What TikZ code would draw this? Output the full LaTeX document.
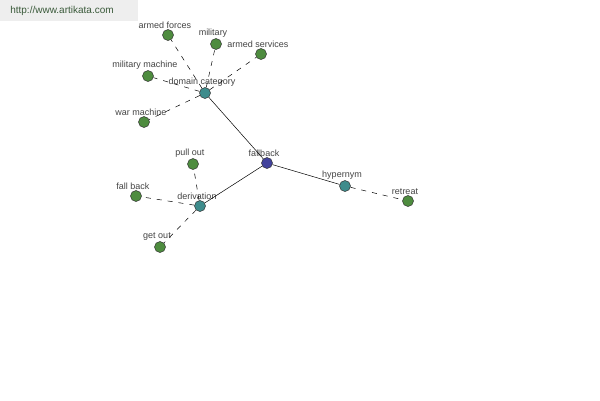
\documentclass[tikz,border=0pt]{standalone}
\usepackage{fontspec}
\setmainfont{Liberation Sans}
\usepackage{tikz}
\usetikzlibrary{positioning}
\definecolor{leafgreen}{HTML}{4E8C3F}
\definecolor{hubteal}{HTML}{3E8C8C}
\definecolor{rootblue}{HTML}{42429C}
\definecolor{labelgray}{HTML}{444444}
\definecolor{headgray}{HTML}{EEEEEE}
\definecolor{headtext}{HTML}{3A5A3A}
\tikzset{
  dot/.style={circle, draw=black!80, line width=0.5pt, minimum size=11pt, inner sep=0pt},
  leaf/.style={dot, fill=leafgreen},
  hub/.style={dot, fill=hubteal},
  root/.style={dot, fill=rootblue},
  lbl/.style={font=\fontsize{9}{10}\selectfont, text=labelgray, inner sep=0.5pt, xshift=-3pt},
  link/.style={line width=0.5pt, black},
  weak/.style={line width=0.5pt, black, dash pattern=on 5pt off 6pt}
}
\begin{document}
\begin{tikzpicture}[x=1pt, y=-1pt, label distance=0pt]
\fill[white] (0,0) rectangle (600,400);
\useasboundingbox (0,0) rectangle (600,400);
% header
\fill[headgray] (0,0) rectangle (138,21);
\node[font=\fontsize{10}{11}\selectfont, text=headtext] (site) at (62,11) {http://www.artikata.com};
% centre and the three relation nodes
\node[root, label={[lbl]above:fallback}] (fallback) at (267,163) {};
\node[hub, label={[lbl]above:domain category}] (domain) at (205,93) {};
\node[hub, label={[lbl]above:derivation}] (deriv) at (200,206) {};
\node[hub, label={[lbl]above:hypernym}] (hyper) at (345,186) {};
% leaves
\node[leaf, label={[lbl]above:armed forces}] (armedforces) at (168,35) {};
\node[leaf, label={[lbl]above:military}] (military) at (216,44) {};
\node[leaf, label={[lbl]above:armed services}] (armedservices) at (261,54) {};
\node[leaf, label={[lbl]above:military machine}] (milmachine) at (148,76) {};
\node[leaf, label={[lbl]above:war machine}] (warmachine) at (144,122) {};
\node[leaf, label={[lbl]above:pull out}] (pullout) at (193,164) {};
\node[leaf, label={[lbl]above:fall back}] (fallback2) at (136,196) {};
\node[leaf, label={[lbl]above:get out}] (getout) at (160,247) {};
\node[leaf, label={[lbl]above:retreat}] (retreat) at (408,201) {};
% solid links from the centre
\draw[link] (fallback) -- (domain);
\draw[link] (fallback) -- (deriv);
\draw[link] (fallback) -- (hyper);
% dashed links to the leaves
\foreach \leafnode in {armedforces, military, armedservices, milmachine, warmachine}
  \draw[weak] (domain) -- (\leafnode);
\foreach \leafnode in {pullout, fallback2, getout}
  \draw[weak] (deriv) -- (\leafnode);
\draw[weak] (hyper) -- (retreat);
\end{tikzpicture}
\end{document}
